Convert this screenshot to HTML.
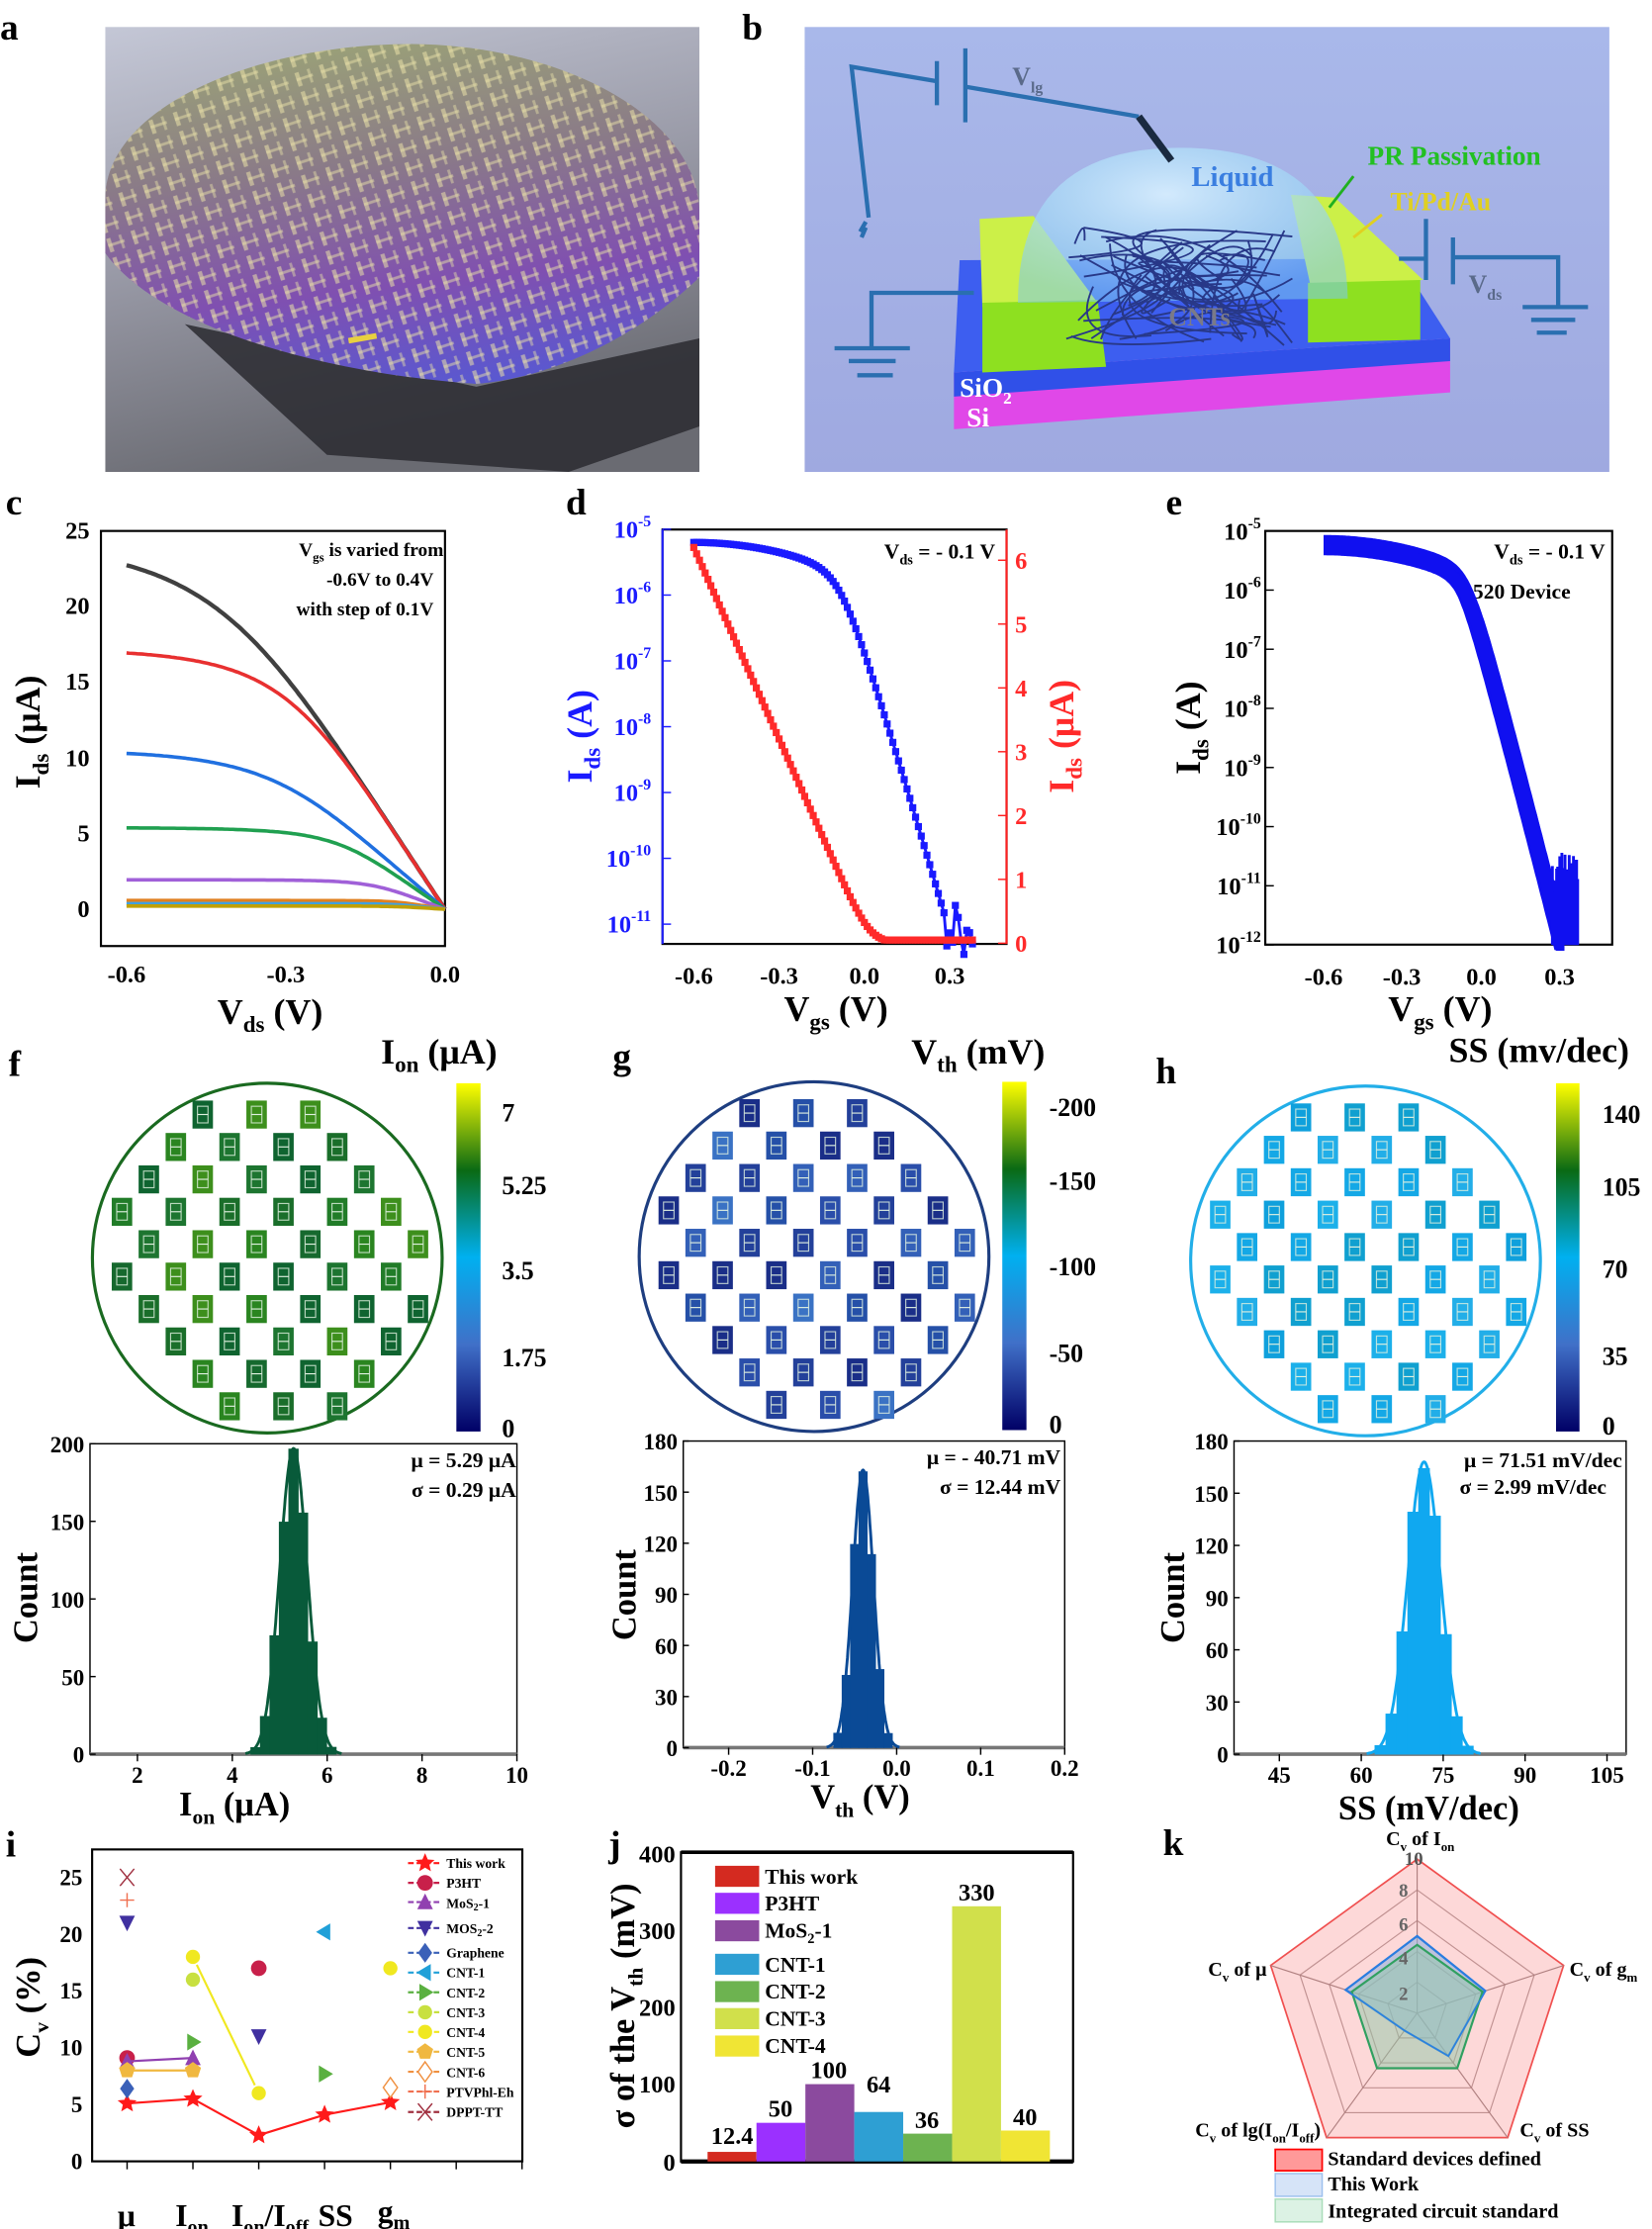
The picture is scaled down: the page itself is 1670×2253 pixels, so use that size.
<!DOCTYPE html>
<html><head><meta charset="utf-8">
<style>
html,body{margin:0;padding:0;background:#fff;}
svg{display:block;}
text{font-family:"Liberation Serif",serif;font-weight:bold;}
</style></head>
<body>
<svg id="s" width="1670" height="2253" viewBox="0 0 1162 1568" preserveAspectRatio="none" xmlns="http://www.w3.org/2000/svg">
<defs>
<linearGradient id="bga" x1="0" y1="0" x2="0.3" y2="1">
<stop offset="0" stop-color="#c4c7d6"/><stop offset="0.5" stop-color="#9a9ba8"/><stop offset="1" stop-color="#6a6b72"/></linearGradient>
<linearGradient id="waf" x1="0.4" y1="0" x2="0.6" y2="1">
<stop offset="0" stop-color="#9aa078"/><stop offset="0.35" stop-color="#8a7a88"/><stop offset="0.7" stop-color="#8050b0"/><stop offset="1" stop-color="#5a58d0"/></linearGradient>
<pattern id="chip" width="18" height="14" patternUnits="userSpaceOnUse" patternTransform="rotate(-18)">
<rect x="1" y="1" width="3" height="10" fill="#e8e0a8" opacity="0.55"/><rect x="1" y="5" width="12" height="2" fill="#e8e0a8" opacity="0.5"/><rect x="10" y="1" width="2" height="10" fill="#e8e0a8" opacity="0.45"/></pattern>
<linearGradient id="bgb" x1="0" y1="0" x2="0" y2="1"><stop offset="0" stop-color="#a9b8ea"/><stop offset="1" stop-color="#9fa9e0"/></linearGradient>
<linearGradient id="cmap" x1="0" y1="0" x2="0" y2="1">
<stop offset="0" stop-color="#ffff00"/><stop offset="0.25" stop-color="#0a6a14"/><stop offset="0.5" stop-color="#00b0f0"/><stop offset="0.75" stop-color="#4070c8"/><stop offset="1" stop-color="#000066"/></linearGradient>
<radialGradient id="dome" cx="0.45" cy="0.3" r="0.7"><stop offset="0" stop-color="#d8f0ff" stop-opacity="0.9"/><stop offset="1" stop-color="#7cc8f0" stop-opacity="0.55"/></radialGradient>
</defs>

<!-- panel a -->
<rect x="74" y="19" width="418" height="313" fill="url(#bga)"/>
<polygon points="130,228 335,272 492,238 492,300 400,332 230,320" fill="#2a2a30" opacity="0.85"/>
<path d="M74,140 C74,75 180,31 290,31 C400,32 492,85 492,150 L492,195 C445,240 385,266 335,270 C220,262 110,228 74,178 Z" fill="url(#waf)"/>
<path d="M74,140 C74,75 180,31 290,31 C400,32 492,85 492,150 L492,195 C445,240 385,266 335,270 C220,262 110,228 74,178 Z" fill="url(#chip)"/>
<rect x="245" y="236" width="20" height="4" fill="#e8d040" transform="rotate(-10 255 238)"/>
<rect x="0" y="19" width="74" height="313" fill="#fff"/>
<rect x="492" y="19" width="74" height="313" fill="#fff"/>
<text x="0" y="28" font-size="26">a</text>

<!-- panel b -->
<rect x="566" y="19" width="566" height="313" fill="url(#bgb)"/>
<text x="522" y="28" font-size="26">b</text>
<polygon points="671,262 1020,238 1020,276 671,302" fill="#e048e8"/>
<polygon points="671,262 1020,238 1020,254 671,279" fill="#3050e8"/>
<polygon points="675,183 984,182 1020,238 671,262" fill="#3d5ef0"/>
<polygon points="689,154 727,152 772,213 691,216" fill="#ccf048"/>
<polygon points="691,213 772,211 778,258 691,262" fill="#8ee020"/>
<polygon points="908,137 939,139 1001,197 922,202" fill="#ccf048"/>
<polygon points="920,199 999,197 999,239 920,241" fill="#8ee020"/>
<path d="M716,213 Q716,104 830,104 Q946,104 948,210 Z" fill="url(#dome)"/>
<g id="cnt" stroke="#283888" stroke-width="1.3" fill="none"></g>
<g stroke="#2a6fb0" stroke-width="3" fill="none">
<polyline points="611,153 599,47 658,57"/><line x1="659" y1="43" x2="659" y2="74"/><line x1="679" y1="34" x2="679" y2="86"/>
<polyline points="679,61 801,82"/><line x1="609" y1="156" x2="605" y2="163"/><line x1="609" y1="160" x2="606" y2="167"/>
<polyline points="685,206 613,206 613,245"/><line x1="587" y1="245" x2="640" y2="245"/><line x1="597" y1="254" x2="630" y2="254"/><line x1="603" y1="264" x2="628" y2="264"/>
<polyline points="984,182 1003,182"/><line x1="1003" y1="154" x2="1003" y2="197"/><line x1="1022" y1="167" x2="1022" y2="200"/>
<polyline points="1022,181 1096,181 1096,215"/><line x1="1071" y1="216" x2="1117" y2="216"/><line x1="1077" y1="225" x2="1108" y2="225"/><line x1="1081" y1="234" x2="1102" y2="234"/>
</g>
<line x1="801" y1="82" x2="824" y2="113" stroke="#1a2a40" stroke-width="5"/>
<line x1="952" y1="124" x2="935" y2="146" stroke="#20b020" stroke-width="2"/>
<line x1="972" y1="151" x2="952" y2="167" stroke="#e0d020" stroke-width="2"/>
<text x="712" y="60" font-size="18" fill="#5a6a8a" font-weight="normal">V<tspan font-size="11" dy="5">lg</tspan></text>
<text x="838" y="131" font-size="20" fill="#3a7ee0" font-weight="normal">Liquid</text>
<text x="962" y="116" font-size="19" fill="#22c022">PR Passivation</text>
<text x="978" y="148" font-size="18" fill="#e0d020" font-weight="normal">Ti/Pd/Au</text>
<text x="1033" y="206" font-size="18" fill="#5a6a8a" font-weight="normal">V<tspan font-size="11" dy="5">ds</tspan></text>
<text x="822" y="229" font-size="18" fill="#7a7a88" font-weight="normal">CNTs</text>
<text x="675" y="279" font-size="19" fill="#fff">SiO<tspan font-size="12" dy="5">2</tspan></text>
<text x="680" y="300" font-size="19" fill="#fff">Si</text>

<!-- panel c -->
<text x="4" y="362" font-size="26">c</text>
<rect x="71" y="373.5" width="242" height="292" fill="none" stroke="#000" stroke-width="1.5"/>
<g font-size="17" text-anchor="end">
<text x="63" y="645">0</text><text x="63" y="592">5</text><text x="63" y="539">10</text><text x="63" y="485">15</text><text x="63" y="432">20</text><text x="63" y="379">25</text></g>
<g font-size="17" text-anchor="middle"><text x="89" y="691">-0.6</text><text x="201" y="691">-0.3</text><text x="313" y="691">0.0</text></g>
<text x="190" y="720" font-size="25" text-anchor="middle">V<tspan font-size="16" dy="6">ds</tspan><tspan dy="-6"> (V)</tspan></text>
<text transform="translate(28,515) rotate(-90)" font-size="25" text-anchor="middle">I<tspan font-size="16" dy="6">ds</tspan><tspan dy="-6"> (μA)</tspan></text>
<g font-size="13.5" text-anchor="end"><text x="312" y="391">V<tspan font-size="9" dy="4">gs</tspan><tspan dy="-4"> is varied from</tspan></text><text x="305" y="412">-0.6V to 0.4V</text><text x="305" y="433">with step of 0.1V</text></g>
<g id="cg" fill="none" stroke-width="2.5"></g>

<!-- panel d -->
<text x="398" y="362" font-size="26">d</text>
<rect x="466" y="372.5" width="242" height="291.5" fill="none" stroke="#000" stroke-width="1.5"/>
<line x1="466" y1="372.5" x2="466" y2="664" stroke="#2020ff" stroke-width="1.5"/>
<line x1="708" y1="372.5" x2="708" y2="664" stroke="#ff2020" stroke-width="1.5"/>
<g font-size="17" fill="#1a1aff" text-anchor="end" id="dl"></g>
<g font-size="17" fill="#ff2a2a" id="dr"></g>
<g font-size="17" text-anchor="middle"><text x="488" y="692">-0.6</text><text x="548" y="692">-0.3</text><text x="608" y="692">0.0</text><text x="668" y="692">0.3</text></g>
<text x="588" y="718" font-size="25" text-anchor="middle">V<tspan font-size="16" dy="6">gs</tspan><tspan dy="-6"> (V)</tspan></text>
<text transform="translate(416,518) rotate(-90)" font-size="25" text-anchor="middle" fill="#1a1aff">I<tspan font-size="16" dy="6">ds</tspan><tspan dy="-6"> (A)</tspan></text>
<text transform="translate(755,518) rotate(-90)" font-size="25" text-anchor="middle" fill="#ff2a2a">I<tspan font-size="16" dy="6">ds</tspan><tspan dy="-6"> (μA)</tspan></text>
<text x="700" y="393" font-size="15" text-anchor="end">V<tspan font-size="10" dy="4">ds</tspan><tspan dy="-4"> = - 0.1 V</tspan></text>
<g id="dg"></g>

<!-- panel e -->
<text x="820" y="362" font-size="26">e</text>
<rect x="890" y="373.5" width="244" height="291" fill="none" stroke="#000" stroke-width="1.5"/>
<g font-size="17" text-anchor="end" id="el"></g>
<g font-size="17" text-anchor="middle"><text x="931" y="693">-0.6</text><text x="986" y="693">-0.3</text><text x="1042" y="693">0.0</text><text x="1097" y="693">0.3</text></g>
<text x="1013" y="718" font-size="25" text-anchor="middle">V<tspan font-size="16" dy="6">gs</tspan><tspan dy="-6"> (V)</tspan></text>
<text transform="translate(844,512) rotate(-90)" font-size="25" text-anchor="middle">I<tspan font-size="16" dy="6">ds</tspan><tspan dy="-6"> (A)</tspan></text>
<text x="1129" y="393" font-size="15" text-anchor="end">V<tspan font-size="10" dy="4">ds</tspan><tspan dy="-4"> = - 0.1 V</tspan></text>
<text x="1036" y="421" font-size="15">520 Device</text>
<g id="eg"></g>

<!-- f g h maps -->
<text x="6" y="757" font-size="26">f</text>
<text x="431" y="752" font-size="26">g</text>
<text x="813" y="762" font-size="26">h</text>
<text x="268" y="748" font-size="25">I<tspan font-size="16" dy="6">on</tspan><tspan dy="-6"> (μA)</tspan></text>
<text x="641" y="748" font-size="25">V<tspan font-size="16" dy="6">th</tspan><tspan dy="-6"> (mV)</tspan></text>
<text x="1019" y="747" font-size="25">SS (mv/dec)</text>
<rect x="321" y="762" width="17" height="245" fill="url(#cmap)"/>
<rect x="705" y="761" width="17" height="245" fill="url(#cmap)"/>
<rect x="1094.5" y="762" width="16.5" height="245" fill="url(#cmap)"/>
<g font-size="18"><text x="353" y="789">7</text><text x="353" y="840">5.25</text><text x="353" y="900">3.5</text><text x="353" y="961">1.75</text><text x="353" y="1011">0</text>
<text x="738" y="785">-200</text><text x="738" y="837">-150</text><text x="738" y="897">-100</text><text x="738" y="958">-50</text><text x="738" y="1008">0</text>
<text x="1127" y="790">140</text><text x="1127" y="841">105</text><text x="1127" y="899">70</text><text x="1127" y="960">35</text><text x="1127" y="1009">0</text></g>
<g id="maps"></g>

<!-- histograms -->
<g id="hist"></g>
<g font-size="15" text-anchor="end">
<text x="363" y="1032">μ = 5.29 μA</text><text x="363" y="1053">σ = 0.29 μA</text>
<text x="746" y="1030">μ = - 40.71 mV</text><text x="746" y="1051">σ = 12.44 mV</text>
<text x="1141" y="1032">μ = 71.51 mV/dec</text><text x="1130" y="1051">σ = 2.99 mV/dec</text></g>
<text x="165" y="1277" font-size="24" text-anchor="middle">I<tspan font-size="15" dy="6">on</tspan><tspan dy="-6"> (μA)</tspan></text>
<text x="605" y="1272" font-size="24" text-anchor="middle">V<tspan font-size="15" dy="6">th</tspan><tspan dy="-6"> (V)</tspan></text>
<text x="1005" y="1280" font-size="24" text-anchor="middle">SS (mV/dec)</text>
<text transform="translate(26,1124) rotate(-90)" font-size="24" text-anchor="middle">Count</text>
<text transform="translate(447,1122) rotate(-90)" font-size="24" text-anchor="middle">Count</text>
<text transform="translate(833,1124) rotate(-90)" font-size="24" text-anchor="middle">Count</text>

<!-- panel i -->
<text x="4" y="1306" font-size="26">i</text>
<rect x="64.8" y="1301" width="302.6" height="219.4" fill="none" stroke="#000" stroke-width="1.5"/>
<g font-size="16" text-anchor="end"><text x="58" y="1526">0</text><text x="58" y="1486">5</text><text x="58" y="1446">10</text><text x="58" y="1406">15</text><text x="58" y="1366">20</text><text x="58" y="1326">25</text></g>
<g font-size="22" text-anchor="middle"><text x="89" y="1566">μ</text><text x="135" y="1566">I<tspan font-size="14" dy="5">on</tspan></text><text x="190" y="1566">I<tspan font-size="14" dy="5">on</tspan><tspan dy="-5">/I</tspan><tspan font-size="14" dy="5">off</tspan></text><text x="236" y="1566">SS</text><text x="277" y="1563">g<tspan font-size="14" dy="5">m</tspan></text></g>
<text transform="translate(28,1412) rotate(-90)" font-size="24" text-anchor="middle">C<tspan font-size="15" dy="6">v</tspan><tspan dy="-6"> (%)</tspan></text>
<g id="ig"></g>
<g font-size="9.5">
<text x="314" y="1314">This work</text><text x="314" y="1328">P3HT</text><text x="314" y="1342">MoS<tspan font-size="7" dy="2">2</tspan><tspan dy="-2">-1</tspan></text><text x="314" y="1360">MOS<tspan font-size="7" dy="2">2</tspan><tspan dy="-2">-2</tspan></text><text x="314" y="1377">Graphene</text><text x="314" y="1391">CNT-1</text><text x="314" y="1405">CNT-2</text><text x="314" y="1419">CNT-3</text><text x="314" y="1433">CNT-4</text><text x="314" y="1447">CNT-5</text><text x="314" y="1461">CNT-6</text><text x="314" y="1475">PTVPhl-Eh</text><text x="314" y="1489">DPPT-TT</text></g>

<!-- panel j -->
<text x="428" y="1306" font-size="26">j</text>
<rect x="479" y="1303" width="275.8" height="217.5" fill="none" stroke="#000" stroke-width="1.5"/>
<line x1="479" y1="1520.5" x2="754.8" y2="1520.5" stroke="#000" stroke-width="3"/>
<line x1="479" y1="1303" x2="754.8" y2="1303" stroke="#000" stroke-width="2.5"/>
<g font-size="17" text-anchor="end"><text x="475" y="1527">0</text><text x="475" y="1472">100</text><text x="475" y="1418">200</text><text x="475" y="1364">300</text><text x="475" y="1310">400</text></g>
<text transform="translate(446,1411) rotate(-90)" font-size="24" text-anchor="middle">σ of the V<tspan font-size="15" dy="6">th</tspan><tspan dy="-6"> (mV)</tspan></text>
<g id="jg"></g>
<g font-size="15"><text x="538" y="1325">This work</text><text x="538" y="1344">P3HT</text><text x="538" y="1363">MoS<tspan font-size="10" dy="4">2</tspan><tspan dy="-4">-1</tspan></text><text x="538" y="1387">CNT-1</text><text x="538" y="1406">CNT-2</text><text x="538" y="1425">CNT-3</text><text x="538" y="1444">CNT-4</text></g>
<g font-size="17" text-anchor="middle"><text x="515" y="1508">12.4</text><text x="549" y="1489">50</text><text x="583" y="1462">100</text><text x="618" y="1472">64</text><text x="652" y="1497">36</text><text x="687" y="1337">330</text><text x="721" y="1495">40</text></g>

<!-- panel k -->
<text x="818" y="1305" font-size="26">k</text>
<g id="kg"></g>
<g font-size="14">
<text x="999" y="1298" text-anchor="middle">C<tspan font-size="9" dy="4">v</tspan><tspan dy="-4"> of I</tspan><tspan font-size="9" dy="4">on</tspan></text>
<text x="988" y="1312" font-size="13" font-weight="normal" fill="#555">10</text>
<text x="891" y="1390" text-anchor="end">C<tspan font-size="9" dy="4">v</tspan><tspan dy="-4"> of μ</tspan></text>
<text x="1104" y="1390">C<tspan font-size="9" dy="4">v</tspan><tspan dy="-4"> of g</tspan><tspan font-size="9" dy="4">m</tspan></text>
<text x="929" y="1503" text-anchor="end">C<tspan font-size="9" dy="4">v</tspan><tspan dy="-4"> of lg(I</tspan><tspan font-size="9" dy="4">on</tspan><tspan dy="-4">/I</tspan><tspan font-size="9" dy="4">off</tspan><tspan dy="-4">)</tspan></text>
<text x="1069" y="1503">C<tspan font-size="9" dy="4">v</tspan><tspan dy="-4"> of SS</tspan></text>
</g>
<g font-size="13" font-weight="normal" fill="#666"><text x="984" y="1358">6</text><text x="984" y="1382">4</text><text x="984" y="1407">2</text><text x="984" y="1334">8</text></g>
<rect x="897" y="1512" width="33" height="15" fill="#f99" stroke="#f00" stroke-width="1.2"/>
<rect x="897" y="1529" width="33" height="16" fill="#d6e4f8" stroke="#9cc0ee" stroke-width="1"/>
<rect x="897" y="1547" width="33" height="16" fill="#dcf2e4" stroke="#a8dcb8" stroke-width="1"/>
<g font-size="14" font-weight="normal"><text x="934" y="1523">Standard devices defined</text><text x="934" y="1541">This Work</text><text x="934" y="1560">Integrated circuit standard</text></g>
</svg>
<script>
(function(){
function g(id){return document.getElementById(id);}
function add(id,s){g(id).insertAdjacentHTML('beforeend',s);}
var seed=7;function rnd(){seed=(seed*16807)%2147483647;return (seed-1)/2147483646;}
function gs(){var u=0;for(var i=0;i<6;i++)u+=rnd();return u-3;}
var s='';for(var i=0;i<55;i++){var x1=750+rnd()*160,y1=160+rnd()*85,x2=750+rnd()*160,y2=160+rnd()*85;s+='<path d="M'+x1+','+y1+' Q'+(750+rnd()*160)+','+(150+rnd()*100)+' '+x2+','+y2+'"/>';}
add('cnt',s);
function pl(a){return a.map(function(p){return p[0].toFixed(1)+','+p[1].toFixed(1)}).join(' ');}
// panel c
var cols=['#404040','#e83030','#2070e0','#20a050','#a060d8','#e08020','#40a0e0','#c0a000'];
var sat=[24.5,17.3,10.6,5.4,1.95,0.58,0.37,0.21],aa=[0.46,0.326,0.353,0.222,0.15,0.1,0.1,0.1];
s='';for(var k=0;k<8;k++){var pts=[];for(var v=-0.6;v<=0.0001;v+=0.005){var u=-v/aa[k];var I=sat[k]*u/Math.pow(1+Math.pow(u,4),0.25);pts.push([313+v/0.6*224,639.6-I*10.64]);}
s+='<polyline stroke="'+cols[k]+'" stroke-width="'+(k==0?3:2.5)+'" points="'+pl(pts)+'"/>';}
add('cg',s);
// panel d
var lab='';var L=[-5,-6,-7,-8,-9,-10,-11];
for(var i=0;i<L.length;i++){var y=372.3+(-5-L[i])*46.3;lab+='<text x="458" y="'+(y+6)+'">10<tspan font-size="11" dy="-8">'+L[i]+'</tspan></text><line x1="466" y1="'+y+'" x2="472" y2="'+y+'" stroke="#1a1aff"/>';}
add('dl',lab);lab='';
for(var i=0;i<=6;i++){var y=663.5-i*44.9;lab+='<text x="714" y="'+(y+6)+'">'+i+'</text><line x1="702" y1="'+y+'" x2="708" y2="'+y+'" stroke="#ff2020"/>';}
add('dr',lab);
s='';var bp=[],rp=[];
for(var v=-0.6;v<=0.385;v+=0.01){var Lg=-5.2-0.6*Math.pow((v+0.6)/0.6,2)-Math.log10(1+Math.pow(10,(v+0.0886)/0.085));if(Lg<-10.9){Lg=-10.6-rnd()*0.9;}
var x=608+v*200;var y=372.3+(-5-Lg)*46.3;bp.push([x,y]);
var I=10*0.03*Math.log(1+Math.exp((0.02-v)/0.03));if(I<0.05)I=0.05;rp.push([x,663.5-I*44.9]);}
s+='<polyline points="'+pl(bp)+'" fill="none" stroke="#1a1aff" stroke-width="2"/>';
s+='<polyline points="'+pl(rp)+'" fill="none" stroke="#ff2a2a" stroke-width="2"/>';
bp.forEach(function(p){s+='<rect x="'+(p[0]-2.5)+'" y="'+(p[1]-2.5)+'" width="5" height="5" fill="#1a1aff"/>';});
rp.forEach(function(p){s+='<rect x="'+(p[0]-2.5)+'" y="'+(p[1]-2.5)+'" width="5" height="5" fill="#ff2a2a"/>';});
add('dg',s);
// panel e
lab='';for(var d=-5;d>=-12;d--){var y=373.5+(-5-d)*41.6;lab+='<text x="887" y="'+(y+6)+'">10<tspan font-size="11" dy="-8">'+d+'</tspan></text><line x1="890" y1="'+y+'" x2="896" y2="'+y+'" stroke="#000"/>';}
add('el',lab);
s='';for(var n=0;n<14;n++){var v0=-0.065+gs()*0.008,amp=-5.25+gs()*0.05;var pts=[];
for(var v=-0.6;v<=0.32;v+=0.005){var Lg=amp-0.6*Math.pow((v+0.6)/0.6,2)-Math.log10(1+Math.pow(10,(v-v0)/0.0689));if(Lg<-12)Lg=-12;pts.push([1042+v*185,373.5+(-5-Lg)*41.6]);}
s+='<polyline points="'+pl(pts)+'" fill="none" stroke="#1010f0" stroke-width="8"/>';}
for(var v=0.27;v<=0.37;v+=0.004){var x=1042+v*185;var top=-10.4-rnd()*0.8,bot=-12;s+='<line x1="'+x+'" y1="'+(373.5+(-5-top)*41.6)+'" x2="'+x+'" y2="'+(373.5+(-5-bot)*41.6)+'" stroke="#1010f0" stroke-width="2"/>';}
add('eg',s);
// maps
var rows=[[3,7],[2,8],[1,9],[0,10],[1,11],[0,10],[1,11],[2,10],[3,9],[4,8]];
function map(cx,cy,circ,colf){var s='<circle cx="'+cx+'" cy="'+cy+'" r="123" fill="none" stroke="'+circ+'" stroke-width="2.2"/>';
for(var r=0;r<10;r++){for(var k=rows[r][0];k<=rows[r][1];k+=2){var x=cx-102.2+18.93*k-7.2,y=cy-101+22.8*r-9.8;var c=colf();
s+='<rect x="'+x.toFixed(1)+'" y="'+y.toFixed(1)+'" width="14.4" height="19.7" fill="'+c+'"/>'+
'<rect x="'+(x+3.5).toFixed(1)+'" y="'+(y+4).toFixed(1)+'" width="7.4" height="11.7" fill="none" stroke="#e0f0e0" stroke-width="0.8" opacity="0.8"/>'+
'<line x1="'+(x+3.5).toFixed(1)+'" y1="'+(y+9.8).toFixed(1)+'" x2="'+(x+10.9).toFixed(1)+'" y2="'+(y+9.8).toFixed(1)+'" stroke="#e0f0e0" stroke-width="0.8"/>';}}
return s;}
var greens=['#1a6e2a','#16692e','#217c28','#2a8520','#0f6430','#3d8f1c','#1d7530'];
var blues=['#2a4eaa','#23409a','#3360b8','#1a2e88','#3a72c4','#2550a8'];
var skys=['#14a8e6','#0fa0dc','#1cb0ea','#10a0d0','#22aee8'];
var s2=map(188,885,'#1a6a20',function(){return greens[Math.floor(rnd()*greens.length)];});
s2+=map(572.6,884,'#1e3e80',function(){return blues[Math.floor(rnd()*blues.length)];});
s2+=map(960.5,887,'#22aee8',function(){return skys[Math.floor(rnd()*skys.length)];});
add('maps',s2);
// histograms
function hist(x0,x1,y0,y1,xmin,xmax,ymax,yt,xt,xtl,mu,sg,bw,peak,col){
var s='<rect x="'+x0+'" y="'+y1+'" width="'+(x1-x0)+'" height="'+(y0-y1)+'" fill="none" stroke="#000" stroke-width="1"/><line x1="'+x0+'" y1="'+y0+'" x2="'+x1+'" y2="'+y0+'" stroke="#777" stroke-width="2.5"/>';
function X(v){return x0+(v-xmin)/(xmax-xmin)*(x1-x0);}function Y(c){return y0-c/ymax*(y0-y1);}
yt.forEach(function(t){s+='<text x="'+(x0-4)+'" y="'+(Y(t)+6)+'" font-size="16" text-anchor="end">'+t+'</text><line x1="'+x0+'" y1="'+Y(t)+'" x2="'+(x0+4)+'" y2="'+Y(t)+'" stroke="#000"/>';});
xt.forEach(function(t,i){s+='<text x="'+X(t)+'" y="'+(y0+20)+'" font-size="16" text-anchor="middle">'+xtl[i]+'</text><line x1="'+X(t)+'" y1="'+y0+'" x2="'+X(t)+'" y2="'+(y0+5)+'" stroke="#000"/>';});
var start=mu-bw*Math.round(3*sg/bw)-bw/2;
for(var b=start;b<mu+3*sg;b+=bw){var c=peak*Math.exp(-Math.pow((b+bw/2-mu)/sg,2)/2)*(0.95+rnd()*0.1);if(c<2)continue;
s+='<rect x="'+X(b).toFixed(1)+'" y="'+Y(c).toFixed(1)+'" width="'+(X(b+bw)-X(b)).toFixed(1)+'" height="'+(y0-Y(c)).toFixed(1)+'" fill="'+col+'" stroke="'+col+'" stroke-width="0.5"/>';}
var p=[];for(var v=mu-3.5*sg;v<=mu+3.5*sg;v+=sg/20){p.push([X(v),Y(peak*Math.exp(-Math.pow((v-mu)/sg,2)/2))]);}
s+='<polyline points="'+pl(p)+'" fill="none" stroke="'+col+'" stroke-width="2"/>';return s;}
var h='';
h+=hist(63.3,363.6,1234,1015.6,1,10,200,[0,50,100,150,200],[2,4,6,8,10],['2','4','6','8','10'],5.29,0.29,0.2,197,'#085a3a');
h+=hist(480.6,748.9,1229.4,1013.7,-0.254,0.2,180,[0,30,60,90,120,150,180],[-0.2,-0.1,0,0.1,0.2],['-0.2','-0.1','0.0','0.1','0.2'],-0.04,0.0124,0.01,163,'#0a4a96');
h+=hist(868,1143.8,1234,1013.7,36.7,108.5,180,[0,30,60,90,120,150,180],[45,60,75,90,105],['45','60','75','90','105'],71.5,3.0,2,168,'#10a8f0');
add('hist',h);
// panel i
function IX(i){return 89.4+i*46.3;}function IY(v){return 1520.4-v*7.99;}
function star(x,y,r,c){var p=[];for(var i=0;i<10;i++){var a=-Math.PI/2+i*Math.PI/5,rr=i%2?r*0.45:r;p.push((x+rr*Math.cos(a)).toFixed(1)+','+(y+rr*Math.sin(a)).toFixed(1));}return '<polygon points="'+p.join(' ')+'" fill="'+c+'"/>';}
function mk(t,x,y,c){var r=5.5;
if(t=='star')return star(x,y,7,c);
if(t=='circ')return '<circle cx="'+x+'" cy="'+y+'" r="'+r+'" fill="'+c+'"/>';
if(t=='ocirc')return '<circle cx="'+x+'" cy="'+y+'" r="'+r+'" fill="'+c+'" stroke="#fff" stroke-width="1.5"/><circle cx="'+x+'" cy="'+y+'" r="'+(r-1)+'" fill="none" stroke="'+c+'"/>';
if(t=='up')return '<polygon points="'+x+','+(y-6)+' '+(x+5.5)+','+(y+5)+' '+(x-5.5)+','+(y+5)+'" fill="'+c+'"/>';
if(t=='dn')return '<polygon points="'+x+','+(y+6)+' '+(x+5.5)+','+(y-5)+' '+(x-5.5)+','+(y-5)+'" fill="'+c+'"/>';
if(t=='dia')return '<polygon points="'+x+','+(y-7)+' '+(x+5)+','+y+' '+x+','+(y+7)+' '+(x-5)+','+y+'" fill="'+c+'"/>';
if(t=='odia')return '<polygon points="'+x+','+(y-7)+' '+(x+5)+','+y+' '+x+','+(y+7)+' '+(x-5)+','+y+'" fill="#fff" stroke="'+c+'"/>';
if(t=='lt')return '<polygon points="'+(x-6)+','+y+' '+(x+4)+','+(y-6)+' '+(x+4)+','+(y+6)+'" fill="'+c+'"/>';
if(t=='rt')return '<polygon points="'+(x+6)+','+y+' '+(x-4)+','+(y-6)+' '+(x-4)+','+(y+6)+'" fill="'+c+'"/>';
if(t=='pent'){var p=[];for(var i=0;i<5;i++){var a=-Math.PI/2+i*2*Math.PI/5;p.push((x+6*Math.cos(a)).toFixed(1)+','+(y+6*Math.sin(a)).toFixed(1));}return '<polygon points="'+p.join(' ')+'" fill="'+c+'"/>';}
if(t=='plus')return '<path d="M'+(x-5)+','+y+'h10M'+x+','+(y-5)+'v10" stroke="'+c+'" stroke-width="1"/>';
if(t=='x')return '<path d="M'+(x-5)+','+(y-6)+'l10,12M'+(x+5)+','+(y-6)+'l-10,12" stroke="'+c+'" stroke-width="1"/>';}
var ser=[
['star','#ff1a1a',[[0,5.1],[1,5.5],[2,2.3],[3,4.1],[4,5.2]],1],
['circ','#c8204a',[[0,9.1],[2,17]],0],
['up','#9040b0',[[0,8.8],[1,9.1]],1],
['dn','#4030a0',[[0,21],[2,11]],0],
['dia','#3a60b8',[[0,6.4]],0],
['lt','#20a0d8',[[3,20.2]],0],
['rt','#5ab040',[[1,10.5],[3,7.7]],0],
['ocirc','#c8e040',[[1,16]],0],
['ocirc','#f0e820',[[1,18],[2,6],[4,17]],2],
['pent','#f0b840',[[0,8],[1,8]],1],
['odia','#f09040',[[4,6.5]],0],
['plus','#f07050',[[0,23]],0],
['x','#a03040',[[0,25]],0]];
var legY=[1310.6,1324.5,1338,1356.3,1373.7,1387.6,1401.5,1415.5,1429.4,1443.3,1457.4,1471.3,1485.7];
s='';ser.forEach(function(q,i){var pts=q[2];
if(q[3]==1){s+='<polyline points="'+pts.map(function(p){return IX(p[0])+','+IY(p[1])}).join(' ')+'" fill="none" stroke="'+q[1]+'" stroke-width="1.5"/>';}
if(q[3]==2){s+='<line x1="'+IX(1)+'" y1="'+IY(18)+'" x2="'+IX(2)+'" y2="'+IY(6)+'" stroke="'+q[1]+'" stroke-width="1.5"/>';}
pts.forEach(function(p){s+=mk(q[0],IX(p[0]),IY(p[1]),q[1]);});
s+='<line x1="287" y1="'+legY[i]+'" x2="311" y2="'+legY[i]+'" stroke="'+q[1]+'" stroke-width="1.5" stroke-dasharray="4,2"/>'+mk(q[0],299,legY[i],q[1]);});
for(var i=0;i<=6;i++){s+='<line x1="'+IX(i)+'" y1="1520.4" x2="'+IX(i)+'" y2="1526" stroke="#000"/>';}
add('ig',s);
// panel j
var vals=[12.4,50,100,64,36,330,40],jc=['#d42a20','#9b30ff','#8b4a9e','#2e9fd3','#6db350','#d1e04b','#f0e534'];
s='';vals.forEach(function(v,i){var x=497.7+i*34.4;s+='<rect x="'+x+'" y="'+(1520.5-v*0.544)+'" width="34.4" height="'+(v*0.544)+'" fill="'+jc[i]+'"/>';});
var ly=[1319.9,1338.9,1358.2,1381.8,1401,1420,1439.3];
ly.forEach(function(y,i){s+='<rect x="503" y="'+(y-7.4)+'" width="31" height="14.8" fill="'+jc[i]+'"/>';});
add('jg',s);
// panel k
var cx=996.8,cy=1416.1,R=108.3;
function pt(i,r){var a=-Math.PI/2+i*2*Math.PI/5;return [cx+R*r*Math.cos(a),cy+R*r*Math.sin(a)];}
function poly(rs){return rs.map(function(r,i){var p=pt(i,r);return p[0].toFixed(1)+','+p[1].toFixed(1)}).join(' ');}
s='<polygon points="'+poly([1,1,1,1,1])+'" fill="#fdd8d8" stroke="#f05050" stroke-width="1.2"/>';
[0.2,0.4,0.6,0.8].forEach(function(r){s+='<polygon points="'+poly([r,r,r,r,r])+'" fill="none" stroke="#b08080" stroke-width="0.8" opacity="0.8"/>';});
for(var i=0;i<5;i++){var p=pt(i,1);s+='<line x1="'+cx+'" y1="'+cy+'" x2="'+p[0]+'" y2="'+p[1]+'" stroke="#b08080" stroke-width="0.8"/>';}
s+='<polygon points="'+poly([0.5,0.465,0.345,0.14,0.488])+'" fill="#8ab0e0" fill-opacity="0.55" stroke="#2070e0" stroke-width="1.5"/>';
s+='<polygon points="'+poly([0.443,0.447,0.443,0.443,0.447])+'" fill="#90c8a8" fill-opacity="0.5" stroke="#30a060" stroke-width="1.5"/>';
s+='<polygon points="'+poly([0.5,0.465,0.345,0.14,0.488])+'" fill="none" stroke="#2a80e0" stroke-width="1"/>';
add('kg',s);
})();
</script>
</body></html>
